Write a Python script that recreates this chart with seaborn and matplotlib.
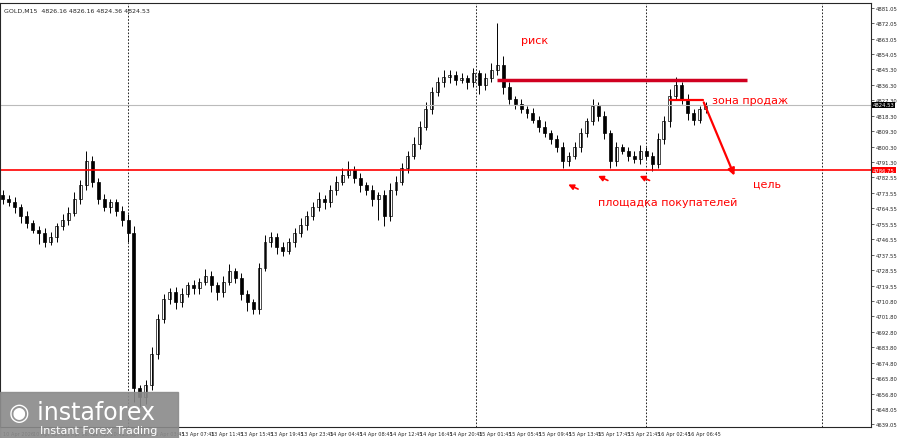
import numpy as np
import pandas as pd
import matplotlib
matplotlib.use("Agg")
import matplotlib.pyplot as plt
import seaborn as sns

# ─────────────────────────────────────────
# DATA (GOLD M15)
# ─────────────────────────────────────────

closes = [
    4770, 4768, 4765, 4760, 4756, 4752, 4750, 4745, 4748, 4754, 4758, 4762, 4770, 4778, 4792, 4780, 4770, 4765, 4768, 4763,
    4758, 4750, 4660, 4655, 4662, 4680, 4700, 4712, 4716, 4710,
    4715, 4720, 4718, 4722, 4725, 4720, 4716, 4722, 4728, 4724, 4715, 4710, 4706,
    4730, 4745, 4748, 4742, 4740, 4745, 4750, 4755, 4760, 4765, 4770, 4768, 4775,
    4780, 4784, 4787, 4782, 4778, 4775, 4770, 4772, 4760, 4775,
    4780, 4788, 4795, 4802, 4812, 4822, 4832, 4838, 4841, 4842, 4839, 4840, 4838, 4843, 4836, 4840, 4845,
    4848, 4835, 4828, 4825, 4822, 4820, 4816, 4812, 4808, 4805,
    4800, 4792, 4795, 4800, 4808, 4815, 4824, 4818, 4808, 4792,
    4800, 4798, 4795, 4793, 4798, 4795, 4790,
    4805, 4815, 4830, 4836, 4828, 4820, 4816, 4822, 4824,
]
wick_up = [
    3, 2, 3, 2, 3, 2, 2, 3, 3, 2, 3, 3, 4, 3, 6, 3, 2, 3, 2, 2,
    3, 3, 4, 2, 3, 4, 3, 3, 2, 3,
    3, 2, 3, 2, 4, 3, 2, 3, 4, 2, 3, 2, 2,
    3, 4, 3, 2, 3, 2, 3, 4, 3, 3, 4, 2, 3,
    3, 4, 5, 2, 3, 2, 3, 2, 3, 4,
    3, 3, 3, 4, 3, 4, 3, 3, 4, 3, 2, 3, 2, 3, 2, 3, 4,
    24, 5, 3, 2, 3, 2, 3, 2, 3, 2,
    2, 3, 2, 3, 3, 2, 4, 2, 3, 2,
    3, 2, 2, 3, 3, 2, 2,
    3, 3, 4, 5, 2, 3, 2, 2, 2,
]
wick_dn = [
    3, 2, 3, 4, 3, 2, 6, 3, 2, 3, 2, 3, 2, 3, 3, 3, 3, 2, 3, 3,
    4, 5, 8, 6, 4, 3, 3, 2, 3, 4,
    3, 2, 3, 3, 2, 4, 5, 3, 2, 3, 4, 5, 3,
    3, 2, 3, 4, 3, 2, 3, 2, 3, 2, 2, 4, 3,
    3, 2, 2, 3, 4, 3, 4, 12, 6, 3,
    3, 2, 3, 2, 3, 2, 3, 2, 3, 4, 3, 2, 4, 3, 5, 3, 2,
    3, 4, 3, 3, 2, 3, 2, 3, 2, 3,
    3, 4, 3, 2, 3, 2, 2, 3, 3, 4,
    3, 2, 3, 2, 3, 2, 4,
    2, 3, 3, 2, 3, 4, 3, 2, 2,
]
opens = [closes[0] + 2] + closes[:-1]

y_ticks = [4881.05, 4872.05, 4863.05, 4854.05, 4845.30, 4836.30, 4827.30, 4818.30, 4809.30,
           4800.30, 4791.30, 4782.55, 4773.55, 4764.55, 4755.55, 4746.55, 4737.55, 4728.55,
           4719.55, 4710.80, 4701.80, 4692.80, 4683.80, 4674.80, 4665.80, 4656.80, 4648.05, 4639.05]
x_tick_labels = ["10 Apr 2026", "10 Apr 12:45", "10 Apr 16:45", "10 Apr 20:45", "13 Apr 00:45",
                 "13 Apr 03:45", "13 Apr 07:45", "13 Apr 11:45", "13 Apr 15:45", "13 Apr 19:45",
                 "13 Apr 23:45", "14 Apr 04:45", "14 Apr 08:45", "14 Apr 12:45", "14 Apr 16:45",
                 "14 Apr 20:45", "15 Apr 01:45", "15 Apr 05:45", "15 Apr 09:45", "15 Apr 13:45",
                 "15 Apr 17:45", "15 Apr 21:45", "16 Apr 02:45", "16 Apr 06:45"]
day_breaks = [21, 79.5, 108, 137.5]
support_level = 4786.75
last_price = 4824.53
risk_level = 4839.0

df = pd.DataFrame({"open": opens, "close": closes})
df["high"] = df[["open", "close"]].max(axis=1) + np.array(wick_up)
df["low"] = df[["open", "close"]].min(axis=1) - np.array(wick_dn)
df["idx"] = np.arange(len(df))

# ─────────────────────────────────────────
# PLOT
# ─────────────────────────────────────────

sns.set_style("white")
plt.rcParams["font.family"] = ["DejaVu Sans"]

fig = plt.figure(figsize=(9, 4.39), dpi=100)
ax = fig.add_axes([0.0, 0.025, 0.968, 0.965])
Y0, Y1 = 4637.5, 4883.5

ax.vlines(df["idx"], df["low"], df["high"], color="black", lw=0.7)
up = df[df["close"] >= df["open"]]
dn = df[df["close"] < df["open"]]
ax.bar(up["idx"], up["close"] - up["open"], bottom=up["open"], width=0.5,
       color="white", edgecolor="black", lw=0.5)
ax.bar(dn["idx"], dn["open"] - dn["close"], bottom=dn["close"], width=0.5,
       color="black", edgecolor="black", lw=0.5)

for xb in day_breaks:
    ax.axvline(xb, color="black", ls=(0, (2, 2)), lw=0.6)

ax.axhline(support_level, color="red", lw=1.2)
ax.axhline(last_price, color="#bbbbbb", lw=0.8)
ax.hlines(risk_level, 83, 125, color="#d00020", lw=2.5)

# annotations
ax.annotate("", xy=(123, 4782), xytext=(117.5, 4827.5),
            arrowprops=dict(arrowstyle="-|>", color="red", lw=1.6, mutation_scale=10))
ax.plot([112, 117.5], [4827.5, 4827.5], color="red", lw=1.6)
for xs, ys in [(97, 4775), (102, 4780), (109, 4780)]:
    ax.annotate("", xy=(xs - 2.5, ys + 4), xytext=(xs, ys),
                arrowprops=dict(arrowstyle="-|>", color="red", lw=1.2, mutation_scale=8))

ax.text(87, 4862, "риск", color="red", fontsize=8, va="center")
ax.text(119, 4827.5, "зона продаж", color="red", fontsize=8, va="center")
ax.text(126, 4779, "цель", color="red", fontsize=8, va="center")
ax.text(100, 4768, "площадка покупателей", color="red", fontsize=8, va="center")
ax.text(0.005, 0.99, "GOLD,M15  4826.16 4826.16 4824.36 4824.53", transform=ax.transAxes,
        fontsize=4.5, va="top")

ax.set_xlim(-0.5, 145.8)
ax.set_ylim(Y0, Y1)
ax.yaxis.tick_right()
ax.set_yticks(y_ticks)
ax.set_yticklabels([f"{v:.2f}" for v in y_ticks], fontsize=3.8)
ax.set_xticks(np.arange(len(x_tick_labels)) * 5)
ax.set_xticklabels(x_tick_labels, fontsize=3.6, ha="left")
ax.tick_params(length=2, pad=1, width=0.5)
for s in ax.spines.values():
    s.set_linewidth(0.8)

# price tags on the right axis
ax.text(1.002, (support_level - Y0) / (Y1 - Y0), f"{support_level:.2f}", transform=ax.transAxes,
        fontsize=3.8, color="white", va="center", bbox=dict(fc="red", ec="none", pad=0.5))
ax.text(1.002, (last_price - Y0) / (Y1 - Y0), f"{last_price:.2f}", transform=ax.transAxes,
        fontsize=3.8, color="white", va="center", bbox=dict(fc="black", ec="none", pad=0.5))

# watermark
fig.patches.append(plt.Rectangle((0.0, 0.0), 0.198, 0.105, transform=fig.transFigure,
                                 color="#8a8a8a", alpha=0.9))
fig.text(0.01, 0.06, "◉ instaforex", color="white", fontsize=17, va="center")
fig.text(0.045, 0.018, "Instant Forex Trading", color="white", fontsize=8, va="center")

fig.savefig("out.png", dpi=100)
